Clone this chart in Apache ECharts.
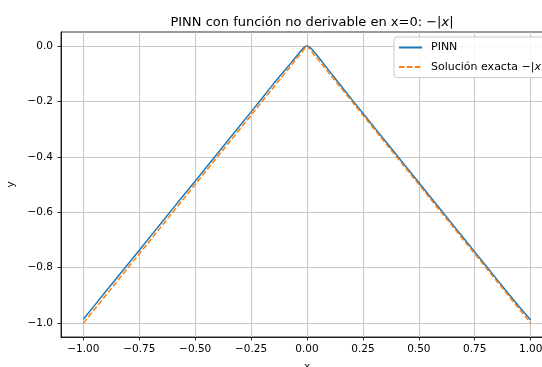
<!DOCTYPE html>
<html>
<head>
<meta charset="utf-8">
<script src="https://cdn.jsdelivr.net/npm/echarts@6/dist/echarts.min.js"></script>
<style>
  html, body { margin: 0; padding: 0; background: #fff; }
  #chart { width: 542px; height: 367px; }
</style>
</head>
<body>
<div id="chart"></div>
<script>
// PINN approximation of y = -|x| on [-1, 1]
const pinnX = [-1.00, -0.95, -0.90, -0.85, -0.80, -0.75, -0.70, -0.65, -0.60, -0.55,
               -0.50, -0.45, -0.40, -0.35, -0.30, -0.25, -0.20, -0.15, -0.10, -0.075,
               -0.05, -0.025, -0.0125, 0.00, 0.0125, 0.025, 0.05, 0.075, 0.10, 0.15,
               0.20, 0.25, 0.30, 0.35, 0.40, 0.45, 0.50, 0.55, 0.60, 0.65,
               0.70, 0.75, 0.80, 0.85, 0.90, 0.95, 1.00];
const pinnY = [-0.986, -0.936, -0.886, -0.836, -0.787, -0.737, -0.687, -0.637, -0.587, -0.537,
               -0.488, -0.438, -0.388, -0.338, -0.288, -0.238, -0.188, -0.137, -0.089, -0.065,
               -0.040, -0.016, -0.005, 0.001, -0.005, -0.015, -0.039, -0.065, -0.091, -0.142,
               -0.193, -0.243, -0.293, -0.343, -0.393, -0.443, -0.493, -0.543, -0.593, -0.643,
               -0.693, -0.743, -0.793, -0.843, -0.893, -0.942, -0.989];

// Exact solution -|x| (piecewise linear, its kink at x = 0)
const exactX = [-1.0, 0.0, 1.0];
const exactY = [-1.0, 0.0, -1.0];

// Tick positions
const xTicks = [-1.00, -0.75, -0.50, -0.25, 0.00, 0.25, 0.50, 0.75, 1.00];
const yTicks = [-1.0, -0.8, -0.6, -0.4, -0.2, 0.0];

const FONT = 'DejaVu Sans';
const minus = s => s.replace('-', '\u2212');

const chart = echarts.init(document.getElementById('chart'), null, { renderer: 'canvas' });

const axisCommon = {
  type: 'value',
  axisLine: { show: true, onZero: false, lineStyle: { color: '#000', width: 0.8 } },
  axisTick: { show: true, inside: false, length: 3.5, lineStyle: { color: '#000', width: 0.8 } },
  splitLine: { show: true, lineStyle: { color: '#c6c6c6', width: 1 } },
  nameTextStyle: { fontFamily: FONT, fontSize: 10.5, color: '#000' }
};

chart.setOption({
  animation: false,
  backgroundColor: '#fff',
  title: {
    text: '{a|PINN con función no derivable en x=0: \u2212|}{i|x}{a||}',
    left: 307,
    top: 11,
    textAlign: 'center',
    textStyle: {
      fontWeight: 'normal',
      rich: {
        a: { fontFamily: FONT, fontSize: 13, fontWeight: 'normal', color: '#000' },
        i: { fontFamily: FONT, fontSize: 13, fontWeight: 'normal', fontStyle: 'italic', color: '#000' }
      }
    }
  },
  grid: {
    left: 61, top: 32, width: 492, height: 305,
    outerBoundsMode: 'none', containLabel: false,
    show: true, borderColor: '#000', borderWidth: 0.8, backgroundColor: 'transparent'
  },
  legend: {
    orient: 'vertical',
    left: 394, top: 37,
    padding: [5, 8, 5, 4],
    itemWidth: 23, itemHeight: 10, itemGap: 8.6,
    backgroundColor: 'rgba(255,255,255,0.85)',
    borderColor: '#cccccc', borderWidth: 1, borderRadius: 3,
    itemStyle: { opacity: 0 },
    data: ['PINN', 'exact'],
    formatter: name => name === 'PINN' ? '{a|PINN}' : '{a|Solución exacta \u2212|}{i|x}{a||}',
    textStyle: {
      padding: [0, 0, 0, 4],
      rich: {
        a: { fontFamily: FONT, fontSize: 11, color: '#000' },
        i: { fontFamily: FONT, fontSize: 11, fontStyle: 'italic', color: '#000' }
      }
    }
  },
  xAxis: Object.assign({}, axisCommon, {
    min: -1.1, max: 1.1,
    name: 'x', nameLocation: 'middle', nameGap: 25,
    axisTick: Object.assign({}, axisCommon.axisTick, { customValues: xTicks }),
    axisLabel: {
      customValues: xTicks, margin: 7,
      fontFamily: FONT, fontSize: 10.5, color: '#000',
      formatter: v => minus(v.toFixed(2))
    }
  }),
  yAxis: Object.assign({}, axisCommon, {
    min: -1.05, max: 0.05,
    name: 'y', nameLocation: 'middle', nameGap: 37, nameRotate: 90,
    axisTick: Object.assign({}, axisCommon.axisTick, { customValues: yTicks }),
    axisLabel: {
      customValues: yTicks, margin: 8,
      fontFamily: FONT, fontSize: 10.5, color: '#000',
      formatter: v => minus(v.toFixed(1))
    }
  }),
  series: [
    {
      name: 'PINN', type: 'line', showSymbol: false, symbol: 'none',
      data: pinnX.map((x, i) => [x, pinnY[i]]),
      lineStyle: { color: '#1f77b4', width: 1.5 },
      itemStyle: { color: '#1f77b4' },
      z: 3
    },
    {
      name: 'exact', type: 'line', showSymbol: false, symbol: 'none',
      data: exactX.map((x, i) => [x, exactY[i]]),
      lineStyle: { color: '#ff7f0e', width: 1.5, type: [5.5, 2.4] },
      itemStyle: { color: '#ff7f0e' },
      z: 4
    }
  ]
});
</script>
</body>
</html>
